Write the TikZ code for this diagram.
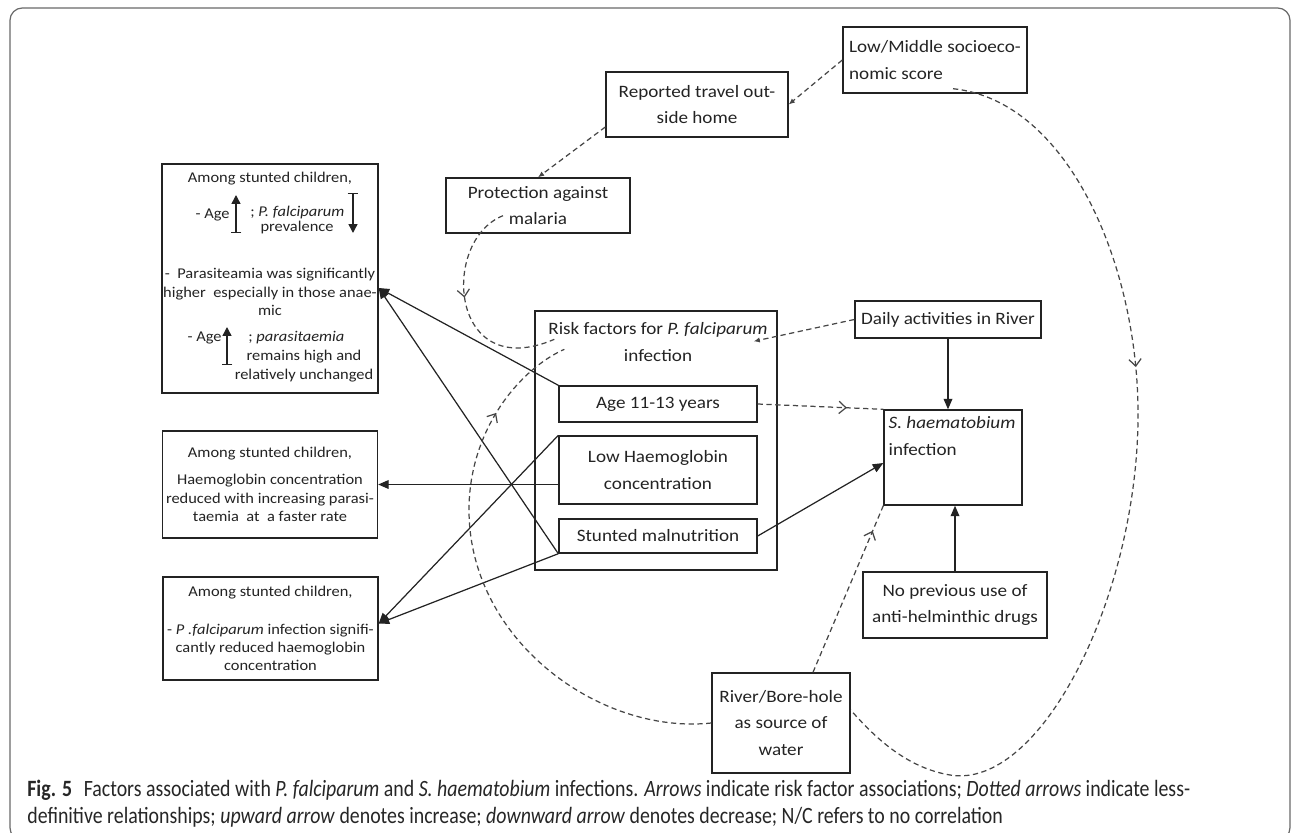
\documentclass[tikz,border=0pt]{standalone}
\usepackage{fontspec}
\setmainfont{Carlito}
\newfontfamily\boxfont[FakeStretch=1.1]{Carlito}
\newfontfamily\capfont[FakeStretch=0.85]{Carlito}
\usetikzlibrary{arrows.meta,decorations.markings}
\definecolor{ShInk}{RGB}{35,35,35}
\definecolor{ShDash}{RGB}{70,70,70}
\definecolor{ShFrame}{RGB}{105,105,105}
\newcommand\shmain{\boxfont\fontsize{9.9}{15}\selectfont}
\newcommand\shsmall{\boxfont\fontsize{8.5}{10.5}\selectfont}
\tikzset{
  sh/box/.style={
    draw=ShInk,
    line width=0.8pt,
    align=center,
    text=ShInk,
    inner sep=2pt,
    font=\shmain
  },
  sh/sidebox/.style={
    draw=ShInk,
    line width=0.8pt,
    align=center,
    text=ShInk,
    inner sep=2pt,
    font=\shsmall
  },
  sh/txt/.style={text=ShInk, inner sep=0pt, font=\shsmall},
  sh/arrow/.style={-{Triangle[length=6pt,width=5pt]}, line width=0.7pt, draw=ShInk},
  sh/dash/.style={line width=0.7pt, draw=ShDash, dash pattern=on 3pt off 2pt},
  sh/dasharrow/.style={sh/dash, -{Latex[length=3.5pt,width=3pt]}},
  sh/midmark/.style={sh/dash, postaction={decorate},
    decoration={markings, mark=at position #1 with {\arrow[solid,line width=0.7pt]{Straight Barb[length=4pt,width=7pt]}}}},
  sh/trend/.style={{Bar[width=6pt]}-{Triangle[length=5pt,width=5pt]}, line width=0.8pt, draw=ShInk}
}

\begin{document}
\begin{tikzpicture}[x=0.02cm,y=-0.02cm]
  \useasboundingbox (0,0) rectangle (1295,832);
  \begin{scope}
    \clip (0,0) rectangle (1295,832);
    \draw[ShFrame, line width=0.7pt, rounded corners=7pt] (10,8) rectangle (1290,840);
  \end{scope}

  % malaria chain
  \node[sh/box, minimum width=3.68cm, minimum height=1.32cm, align=left] (lowmid) at (935,60) {Low/Middle socioeco-\\nomic score};
  \node[sh/box, minimum width=3.64cm, minimum height=1.3cm] (travel) at (697,104.5) {Reported travel out-\\side home};
  \node[sh/box, minimum width=3.68cm, minimum height=1.1cm] (protect) at (538,205.5) {Protection against\\malaria};

  % risk factors
  \node[sh/box, minimum width=4.84cm, minimum height=5.18cm] (risk) at (656,440.5) {};
  \node[sh/txt, font=\shmain, align=center] (risktitle) at (658,342) {Risk factors for \textit{P. falciparum}\\infection};
  \node[sh/box, minimum width=3.96cm, minimum height=0.72cm] (age) at (658,404) {Age 11-13 years};
  \node[sh/box, minimum width=3.96cm, minimum height=1.36cm] (lowhb) at (658,470) {Low Haemoglobin\\concentration};
  \node[sh/box, minimum width=3.96cm, minimum height=0.68cm] (stunted) at (658,536) {Stunted malnutrition};

  % schistosoma side
  \node[sh/box, minimum width=3.72cm, minimum height=0.74cm] (daily) at (948,319.5) {Daily activities in River};
  \node[sh/box, minimum width=2.76cm, minimum height=1.9cm] (shaem) at (953,457.5) {};
  \node[sh/txt, font=\shmain, align=left, anchor=north west] (shaemtxt) at ([xshift=0.1cm,yshift=-0.14cm]shaem.north west) {\textit{S. haematobium}\\infection};
  \node[sh/box, minimum width=3.68cm, minimum height=1.32cm] (noprev) at (955,605) {No previous use of\\anti-helminthic drugs};
  \node[sh/box, minimum width=2.76cm, minimum height=2cm] (river) at (781,723) {River/Bore-hole\\as source of\\water};

  % among stunted children
  \node[sh/sidebox, minimum width=4.32cm, minimum height=4.58cm] (stuntA) at (270,278.5) {};
  \node[sh/txt] (amongA) at (270,179) {Among stunted children,};
  \node[sh/txt, anchor=east] (ageA) at (230,215) {- Age};
  \node[sh/txt, anchor=west] (pfA) at (250,213) {; \textit{P. falciparum}};
  \node[sh/txt] (prevA) at (297,228) {prevalence};
  \node[sh/txt, align=center] (parasA) at (270,292) {-\ \ Parasiteamia was significantly\\higher\ \ especially in those anae-\\mic};
  \node[sh/txt, anchor=east] (ageB) at (222,338) {- Age};
  \node[sh/txt, anchor=west] (parasB) at (248,338) {; \textit{parasitaemia}};
  \node[sh/txt, align=center] (remainB) at (304,366) {remains high and\\relatively unchanged};
  \draw[sh/trend] (236,233) -- (236,195);
  \draw[sh/trend] (353,193) -- (353,233);
  \draw[sh/trend] (227,365) -- (227,327);

  \node[sh/sidebox, minimum width=4.28cm, minimum height=2.14cm] (stuntB) at (270,484.5) {Among stunted children,\\[5pt]Haemoglobin concentration\\reduced with increasing parasi-\\taemia\ \ at\ \ a faster rate};
  \node[sh/sidebox, minimum width=4.3cm, minimum height=2.06cm] (stuntC) at (270.5,628.5) {Among stunted children,\\[11pt]- \textit{P .falciparum} infection signifi-\\cantly reduced haemoglobin\\concentration};

  % solid associations
  \draw[sh/arrow] (age.north west) -- ([yshift=-0.19cm]stuntA.east);
  \draw[sh/arrow] (stunted.south west) -- ([yshift=-0.19cm]stuntA.east);
  \draw[sh/arrow] (stuntB.east -| lowhb.west) -- (stuntB.east);
  \draw[sh/arrow] (lowhb.north west) -- ([yshift=0.1cm]stuntC.east);
  \draw[sh/arrow] (stunted.south west) -- ([yshift=0.1cm]stuntC.east);
  \draw[sh/arrow] (stunted.east) -- ([yshift=-0.11cm]shaem.west);
  \draw[sh/arrow] (daily.south) -- (daily.south |- shaem.north);
  \draw[sh/arrow] (noprev.north) -- (noprev.north |- shaem.south);

  % less definitive
  \draw[sh/dasharrow] (lowmid.west) -- (travel.east);
  \draw[sh/dasharrow] ([yshift=-0.45cm]travel.west) -- (protect.north);
  \draw[sh/dasharrow] (daily.west) -- ([xshift=-0.48cm,yshift=-0.62cm]risk.north east);
  \draw[sh/midmark=0.45] ([xshift=-0.7cm,yshift=0.36cm]protect.south) .. controls +(-63,25) and +(-105,45) .. ([xshift=0.4cm,yshift=-0.58cm]risk.north west);
  \draw[sh/midmark=0.83] (river.west) .. controls +(-112,12) and +(0,130) .. (469,510) .. controls +(0,-80) and +(-45,20) .. ([xshift=0.6cm,yshift=-0.78cm]risk.north west);
  \draw[sh/midmark=0.71] (age.east) -- (shaem.north west);
  \draw[sh/midmark=0.85] ([xshift=0.64cm]river.north) -- (shaem.south west);
  \draw[sh/midmark=0.37] ([xshift=0.36cm,yshift=0.1cm]lowmid.south) .. controls +(117,12) and +(2,-150) .. (1138,420) .. controls +(-2,180) and +(90,15) .. (950,775) .. controls +(-45,-7.5) and +(22,25) .. ([yshift=0.26cm]river.east);

  % caption
  \node[anchor=west, align=left, inner sep=0pt, text=black!85, font={\capfont\fontsize{13.3}{15.5}\selectfont}] (caption) at (27,804) {\textbf{Fig. 5}\enspace Factors associated with \textit{P. falciparum} and \textit{S. haematobium} infections. \textit{Arrows} indicate risk factor associations; \textit{Dotted arrows} indicate less-\\definitive relationships; \textit{upward arrow} denotes increase; \textit{downward arrow} denotes decrease; N/C refers to no correlation};
\end{tikzpicture}
\end{document}
